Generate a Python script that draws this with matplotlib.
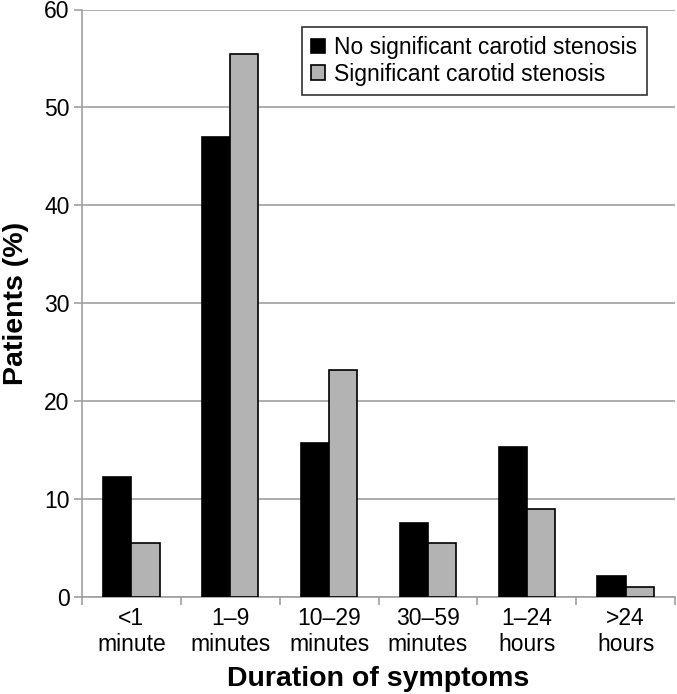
import matplotlib
matplotlib.use("Agg")
import matplotlib.pyplot as plt
import numpy as np

plt.rcParams['font.family'] = ['Liberation Sans', 'DejaVu Sans']

categories = ["<1\nminute", "1\u20139\nminutes", "10\u201329\nminutes", "30\u201359\nminutes", "1\u201324\nhours", ">24\nhours"]
no_sig = [12.3, 47.0, 15.7, 7.6, 15.3, 2.1]
sig = [5.5, 55.5, 23.2, 5.5, 9.0, 1.0]
series_names = ["No significant carotid stenosis", "Significant carotid stenosis"]
yticks = [0, 10, 20, 30, 40, 50, 60]

fig = plt.figure(figsize=(6.77, 6.94), dpi=100)
ax = fig.add_axes([82/677, 1 - 597/694, (675-82)/677, (597-9.5)/694])

x = np.arange(len(categories))
w = 0.285
ax.bar(x - w/2, no_sig, width=w, color='black', edgecolor='black', linewidth=1.2, label=series_names[0], zorder=3)
ax.bar(x + w/2, sig, width=w, color='#b3b3b3', edgecolor='black', linewidth=1.2, label=series_names[1], zorder=3)

ax.set_xlim(-0.5, len(categories) - 0.5)
ax.set_ylim(0, 60)
ax.set_yticks(yticks)
ax.yaxis.grid(True, color='#a0a0a0', linewidth=1.2, zorder=0)
ax.set_axisbelow(True)

ax.set_xticks(x)
ax.set_xticklabels(categories, fontsize=16.5, linespacing=1.2)
ax.set_xticks(np.arange(len(categories) + 1) - 0.5, minor=True)
ax.tick_params(axis='x', which='major', length=0, pad=7)
ax.tick_params(axis='x', which='minor', length=6, color='#a0a0a0', width=1.2)
ax.tick_params(axis='y', labelsize=16.5, length=6, color='#a0a0a0', width=1.2, pad=3)

for s in ['top', 'right']:
    ax.spines[s].set_visible(False)
for s in ['left', 'bottom']:
    ax.spines[s].set_color('#a0a0a0')
    ax.spines[s].set_linewidth(1.2)

ax.set_ylabel("Patients (%)", fontsize=20.5, fontweight='bold', labelpad=11)
ax.set_xlabel("Duration of symptoms", fontsize=20.5, fontweight='bold', labelpad=7)

leg = ax.legend(loc='upper right', bbox_to_anchor=(0.952, 0.97), fontsize=16.5, frameon=True, fancybox=False,
                edgecolor='black', handlelength=0.6, handleheight=0.6, handletextpad=0.4,
                borderpad=0.4, labelspacing=0.15, borderaxespad=0)
leg.get_frame().set_linewidth(1.2)

fig.savefig("out.png", dpi=100)
